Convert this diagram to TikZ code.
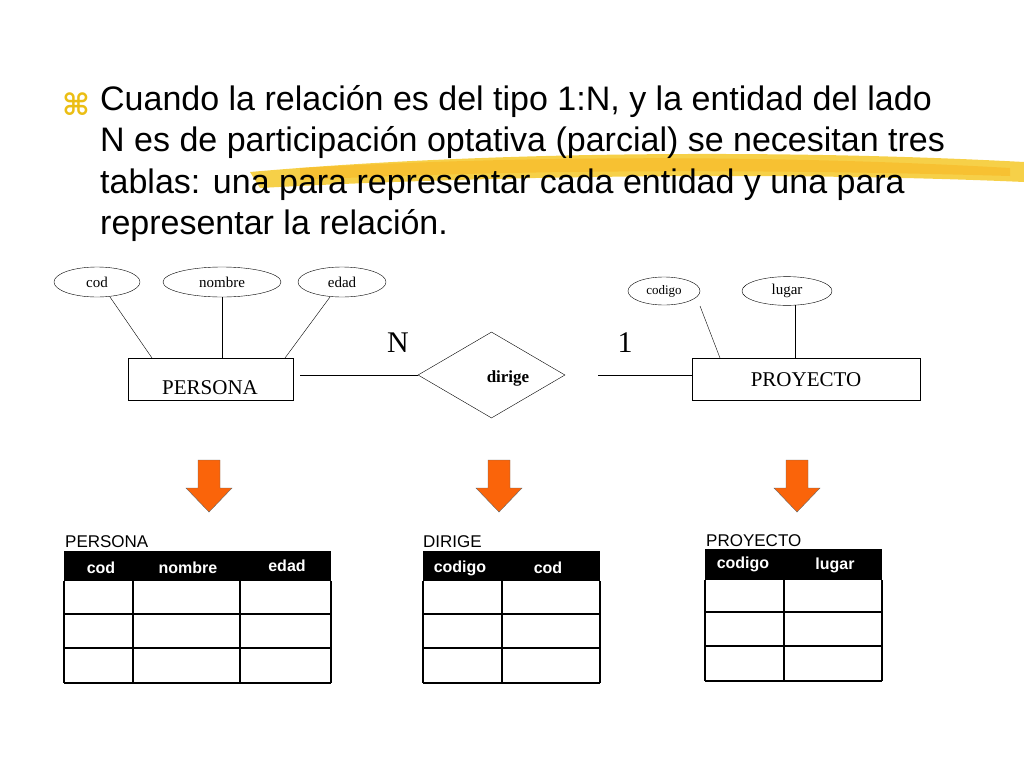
\documentclass[tikz,border=0pt]{standalone}
\usepackage{fontspec}
\setmainfont{Liberation Serif}
\newfontfamily\narrow{Liberation Sans}
\newfontfamily\arialf{Liberation Sans}
\newfontfamily\dejavu{DejaVu Sans}
\usetikzlibrary{shapes.geometric}
\definecolor{bul}{RGB}{235,190,20}
\definecolor{brush}{RGB}{245,200,40}
\definecolor{arr}{RGB}{250,100,10}
\begin{document}
\begin{tikzpicture}[x=1pt,y=-1pt,
  attr/.style={ellipse,draw,minimum height=30pt,font=\fontsize{15}{15}\selectfont},
  ent/.style={draw,rectangle,minimum height=42pt},
  harrow/.style={fill=arr,draw=black!60},
  ttl/.style={anchor=south west,inner sep=0pt,font=\arialf\fontsize{17}{17}\selectfont},
  hdr/.style={text=white,font=\arialf\bfseries\fontsize{16}{16}\selectfont},
  tline/.style={line width=1.2pt}]
\useasboundingbox (0,0) rectangle (1024,768);
% brush
\fill[brush,opacity=0.85] (250,172) .. controls (500,150) and (800,150) .. (1024,162) -- (1024,182) .. controls (800,172) and (500,175) .. (260,188) -- cycle;
\fill[brush!70!orange,opacity=0.5] (300,168) .. controls (550,154) and (800,156) .. (1010,168) -- (1010,176) .. controls (800,170) and (550,168) .. (300,180) -- cycle;
% title text
\node[text=bul,font=\dejavu\bfseries\fontsize{30}{30}\selectfont] (bul) at (76,104) {⌘};
\node[anchor=north west,align=left,inner sep=0pt,font=\narrow\fontsize{34}{41.5}\selectfont] (txt) at (100,85)
 {Cuando la relación es del tipo 1:N, y la entidad del lado\\N es de participación optativa (parcial) se necesitan tres\\tablas: una para representar cada entidad y una para\\representar la relación.};
% ER
\node[attr,minimum width=86pt] (cod) at (97,282) {cod};
\node[attr,minimum width=118pt] (nom) at (222,282) {nombre};
\node[attr,minimum width=88pt] (edad) at (342,282) {edad};
\node[attr,minimum width=72pt,minimum height=28pt,inner sep=1pt,font=\fontsize{13}{13}\selectfont] (codigo) at (664,291) {codigo};
\node[attr,minimum width=90pt,minimum height=28pt] (lugar) at (787,291) {lugar};
\node[ent,minimum width=165pt] (pers) at (210.5,379) {};
\node[font=\fontsize{21}{21}\selectfont] (perst) at (210,388) {PERSONA};
\node[ent,minimum width=228pt] (proy) at (806,379) {};
\node[font=\fontsize{21}{21}\selectfont] (proyt) at (806,380) {PROYECTO};
\node[diamond,draw,minimum width=147pt,minimum height=86pt,inner sep=0pt,aspect=1.7] (dir) at (491.5,375) {};
\node[font=\bfseries\fontsize{17}{17}\selectfont] (dirt) at (508,378) {dirige};
\coordinate (c1) at (110,297); \draw (c1) -- (152,358);
\draw (nom) -- (nom |- pers.north);
\coordinate (e1) at (330,297); \draw (e1) -- (285,358);
\coordinate (g1) at (700,306); \draw (g1) -- (720,358);
\coordinate (l1) at (795,305); \draw (l1) -- (l1 |- proy.north);
\coordinate (a1) at (300,375); \coordinate (a2) at (598,375);
\draw (a1) -- (dir.west);
\draw (a2) -- (a2 -| proy.west);
\node[font=\fontsize{30}{30}\selectfont] (N) at (398,343) {N};
\node[font=\fontsize{30}{30}\selectfont] (one) at (625,343) {1};
% arrows
\foreach \x in {209,499,797}{
  \draw[harrow] (\x-11,460) -- (\x+11,460) -- (\x+11,488) -- (\x+23,488) -- (\x,512) -- (\x-23,488) -- (\x-11,488) -- cycle;}
% tables
\node[ttl] (t1) at (65,548) {PERSONA};
\fill (64,551) rectangle (331,581);
\draw[tline] (64,581) -- (64,683) (133,581) -- (133,683) (240,581) -- (240,683) (331,581) -- (331,683)
 (64,614) -- (331,614) (64,648) -- (331,648) (64,683) -- (331,683);
\node[hdr] (h1) at (101,568) {cod};
\node[hdr] (h2) at (188,568) {nombre};
\node[hdr] (h3) at (287,566) {edad};
\node[ttl] (t2) at (423,548) {DIRIGE};
\fill (423,551) rectangle (600,581);
\draw[tline] (423,581) -- (423,683) (502,581) -- (502,683) (600,581) -- (600,683)
 (423,614) -- (600,614) (423,648) -- (600,648) (423,683) -- (600,683);
\node[hdr] (h4) at (460,568) {codigo};
\node[hdr] (h5) at (548,568) {cod};
\node[ttl] (t3) at (706,547) {PROYECTO};
\fill (705,549) rectangle (882,580);
\draw[tline] (705,580) -- (705,681) (784,580) -- (784,681) (882,580) -- (882,681)
 (705,612) -- (882,612) (705,646) -- (882,646) (705,681) -- (882,681);
\node[hdr] (h6) at (743,564) {codigo};
\node[hdr] (h7) at (835,565) {lugar};
\end{tikzpicture}
\end{document}
